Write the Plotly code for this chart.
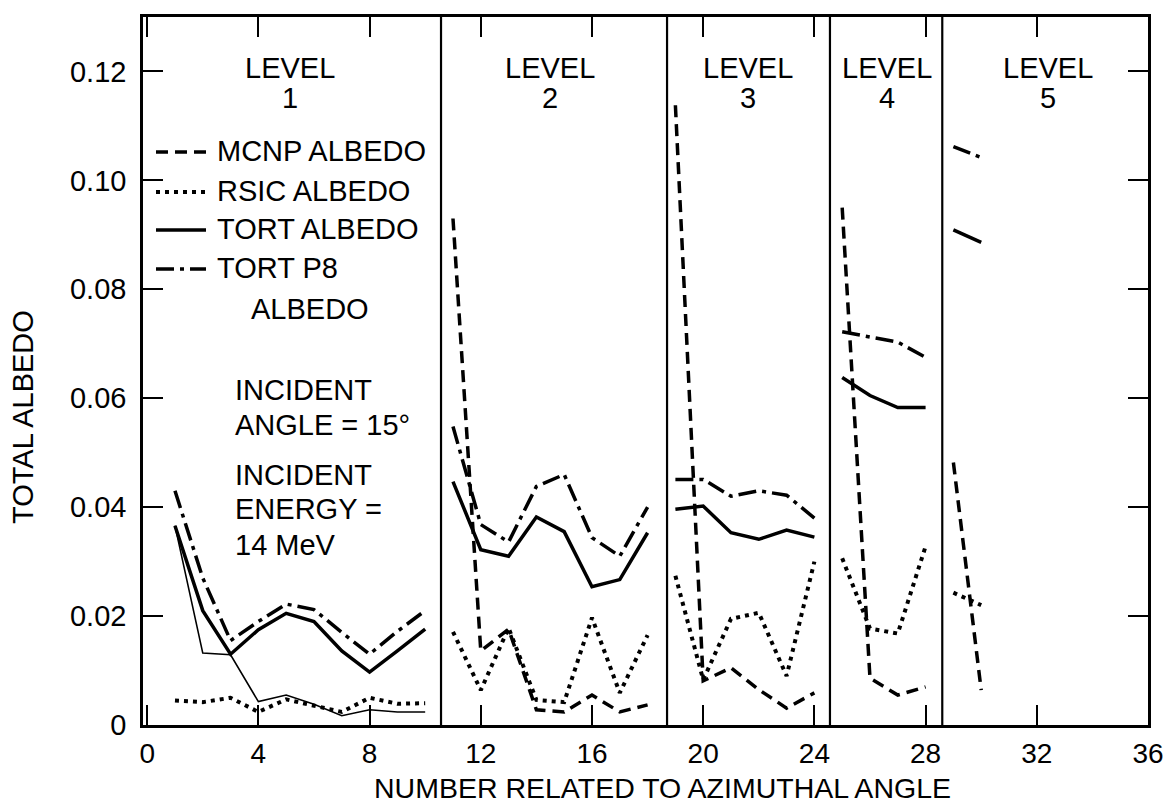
import plotly.graph_objects as go

# Azimuthal-angle index for every computed point; None breaks the curve between levels
azimuth = [1, 2, 3, 4, 5, 6, 7, 8, 9, 10, None,
           11, 12, 13, 14, 15, 16, 17, 18, None,
           19, 20, 21, 22, 23, 24, None,
           25, 26, 27, 28, None,
           29, 30]

mcnp_albedo = [0.0366, 0.0132, 0.0129, 0.0043, 0.0055, 0.0038, 0.0017, 0.0028, 0.0024, 0.0024, None,
               0.0930, 0.0136, 0.0176, 0.0028, 0.0024, 0.0055, 0.0024, 0.0037, None,
               0.1138, 0.0081, 0.0105, 0.0065, 0.0031, 0.0059, None,
               0.0950, 0.0086, 0.0055, 0.0070, None,
               0.0482, 0.0064]

rsic_albedo = [0.0045, 0.0042, 0.0050, 0.0024, 0.0047, 0.0035, 0.0024, 0.0050, 0.0039, 0.0040, None,
               0.0171, 0.0064, 0.0178, 0.0046, 0.0042, 0.0197, 0.0059, 0.0165, None,
               0.0274, 0.0083, 0.0195, 0.0206, 0.0090, 0.0300, None,
               0.0306, 0.0177, 0.0168, 0.0328, None,
               0.0243, 0.0220]

tort_albedo = [0.0366, 0.0210, 0.0130, 0.0175, 0.0205, 0.0190, 0.0136, 0.0097, 0.0136, 0.0176, None,
               0.0447, 0.0322, 0.0310, 0.0382, 0.0355, 0.0254, 0.0267, 0.0353, None,
               0.0396, 0.0402, 0.0353, 0.0341, 0.0358, 0.0345, None,
               0.0638, 0.0605, 0.0583, 0.0583, None,
               0.0909, 0.0886]

tort_p8_albedo = [0.0430, 0.0270, 0.0155, 0.0190, 0.0222, 0.0212, 0.0170, 0.0130, 0.0172, 0.0210, None,
                  0.0548, 0.0368, 0.0336, 0.0438, 0.0460, 0.0344, 0.0310, 0.0400, None,
                  0.0451, 0.0451, 0.0420, 0.0430, 0.0422, 0.0380, None,
                  0.0722, 0.0713, 0.0703, 0.0675, None,
                  0.1062, 0.1042]

# Level separators and level captions
level_bounds = [10.57, 18.7, 24.56, 28.6]
level_names = ["1", "2", "3", "4", "5"]
level_centers = [5.14, 14.5, 21.6, 26.6, 32.4]

x_ticks = [0, 4, 8, 12, 16, 20, 24, 28, 32, 36]
y_ticks = [0, 0.02, 0.04, 0.06, 0.08, 0.10, 0.12]
y_tick_text = ["0", "0.02", "0.04", "0.06", "0.08", "0.10", "0.12"]

FONT = "Liberation Sans, Arial, Helvetica, sans-serif"
FS = 29
INK = "black"
DASH_MCNP = "12px,7px"
DASH_RSIC = "4px,5px"
DASH_P8 = "18px,6px,4px,6px"

fig = go.Figure()

# Level 1 MCNP result is drawn as a thin continuous line
fig.add_trace(go.Scatter(x=azimuth[:10], y=mcnp_albedo[:10], mode="lines",
                         line=dict(color=INK, width=1.6), showlegend=False,
                         name="MCNP ALBEDO"))
fig.add_trace(go.Scatter(x=azimuth[11:], y=mcnp_albedo[11:], mode="lines",
                         line=dict(color=INK, width=3.5, dash=DASH_MCNP),
                         connectgaps=False, showlegend=False, name="MCNP ALBEDO"))
fig.add_trace(go.Scatter(x=azimuth, y=rsic_albedo, mode="lines",
                         line=dict(color=INK, width=4, dash=DASH_RSIC),
                         connectgaps=False, showlegend=False, name="RSIC ALBEDO"))
fig.add_trace(go.Scatter(x=azimuth, y=tort_albedo, mode="lines",
                         line=dict(color=INK, width=3.5),
                         connectgaps=False, showlegend=False, name="TORT ALBEDO"))
fig.add_trace(go.Scatter(x=azimuth, y=tort_p8_albedo, mode="lines",
                         line=dict(color=INK, width=3.5, dash=DASH_P8),
                         connectgaps=False, showlegend=False, name="TORT P8 ALBEDO"))

# Plot-area geometry in pixels, used to place the hand-made legend and notes
W, H = 1175, 806
L, R, T, B = 143, 1148, 17, 725


def px(xp):
    return (xp - L) / (R - L)


def py(yp):
    return 1 - (yp - T) / (B - T)


def label(text, x, y, xref="paper", xanchor="left", yanchor="middle", size=FS, angle=0):
    return dict(text=text, x=x, y=y, xref=xref, yref="paper", xanchor=xanchor,
                yanchor=yanchor, showarrow=False, textangle=angle,
                font=dict(size=size, color=INK, family=FONT))


shapes = []
for xb in level_bounds:
    shapes.append(dict(type="line", xref="x", yref="paper", x0=xb, x1=xb, y0=0, y1=1,
                       line=dict(color=INK, width=2.2)))

# Legend samples
legend_rows = [(152, DASH_MCNP, 3.5, "MCNP ALBEDO"),
               (192, DASH_RSIC, 4, "RSIC ALBEDO"),
               (230, "solid", 3.5, "TORT ALBEDO"),
               (269, DASH_P8, 3.5, "TORT P8")]
annotations = []
for yrow, dash, w, text in legend_rows:
    shapes.append(dict(type="line", xref="paper", yref="paper",
                       x0=px(156), x1=px(206), y0=py(yrow), y1=py(yrow),
                       line=dict(color=INK, width=w, dash=dash)))
    annotations.append(label(text, px(215), py(yrow - 1)))
annotations.append(label("ALBEDO", px(249), py(309)))

notes = [(390, "INCIDENT"), (425, "ANGLE = 15°"), (475, "INCIDENT"),
         (509, "ENERGY ="), (545, "14 MeV")]
for yrow, text in notes:
    annotations.append(label(text, px(233), py(yrow)))

for xc, name in zip(level_centers, level_names):
    annotations.append(label("LEVEL", xc, py(68), xref="x", xanchor="center"))
    annotations.append(label(name, xc, py(98), xref="x", xanchor="center"))

# Axis titles
annotations.append(label("NUMBER RELATED TO AZIMUTHAL ANGLE", px(662), py(806),
                         xanchor="center", yanchor="bottom", size=28.5))
annotations.append(label("TOTAL ALBEDO", px(23), py(417), xanchor="center", angle=-90))

axis_common = dict(showline=True, linecolor=INK, linewidth=2.5, mirror="ticks",
                   ticks="inside", ticklen=20, tickwidth=2, tickcolor=INK,
                   showgrid=False, zeroline=False)

fig.update_layout(
    width=W, height=H,
    margin=dict(l=L, r=W - R, t=T, b=H - B),
    paper_bgcolor="white", plot_bgcolor="white",
    showlegend=False,
    xaxis=dict(range=[-0.15, 36], tickvals=x_ticks, ticklabelstandoff=2,
               tickfont=dict(size=28, color=INK, family=FONT), **axis_common),
    yaxis=dict(range=[0, 0.130], tickvals=y_ticks, ticktext=y_tick_text,
               ticklabelstandoff=8, tickfont=dict(size=FS, color=INK, family=FONT),
               **axis_common),
    shapes=shapes,
    annotations=annotations,
)

fig.write_html("out.html")
